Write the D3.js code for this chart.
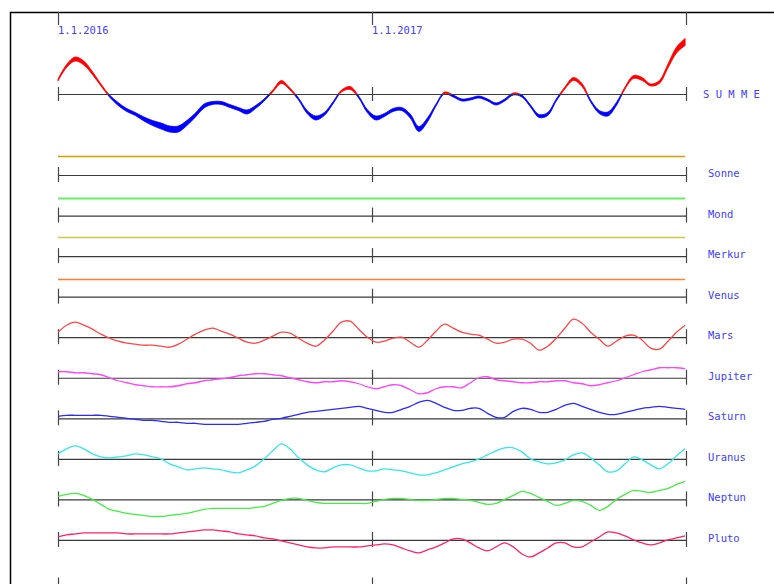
<!DOCTYPE html>
<html>
<head>
<meta charset="utf-8">
<style>
    body { margin: 0; background: #fff; }
    text { font-family: "DejaVu Sans Mono", monospace; font-size: 10.5px; fill: #4040ff; }
</style>
</head>
<body>
<div id="chart"></div>
<script src="https://cdn.jsdelivr.net/npm/d3@7"></script>
<script>
'use strict';

// one sample every 10 days, starting 1.1.2016
var stepDays = 10;
var yearLabels = ["1.1.2016", "1.1.2017", ""];
var yearTicks = [new Date(2016, 0, 1), new Date(2017, 0, 1), new Date(2018, 0, 1)];

var summe = [14, 28, 35, 31, 21, 9, -2, -10, -16, -20, -25, -29, -32, -35, -35, -29, -21, -12, -9, -9,
    -12, -15, -18, -13, -6, 3, 12, 5, -5, -18, -24, -20, -9, 3, 6, -3, -17, -24, -21, -16,
    -15, -22, -35, -26, -11, 1, -2, -6, -5, -3, -6, -10, -6, 0, -2, -12, -22, -20, -6, 6,
    15, 9, -7, -18, -20, -10, 6, 17, 15, 9, 12, 28, 44, 52];
var summeWidth = [2, 3, 4, 4, 3, 2, 2, 3, 3, 3, 4, 5, 6, 6, 6, 5, 4, 4, 3, 3,
    3, 3, 4, 3, 2, 2, 3, 2, 2, 3, 4, 3, 2, 2, 3, 2, 3, 4, 3, 3,
    3, 4, 5, 4, 2, 2, 2, 2, 2, 2, 2, 2, 2, 2, 2, 2, 3, 3, 2, 2,
    3, 3, 2, 3, 4, 3, 2, 3, 3, 2, 3, 4, 6, 7];

var bodies = ["Sonne", "Mond", "Merkur", "Venus", "Mars", "Jupiter", "Saturn", "Uranus", "Neptun", "Pluto"];
var colors = ["#d4a000", "#66ee66", "#cccc44", "#ff7f30", "#ff4545", "#ff44ff", "#2a2aff", "#33e8e8", "#44ee44", "#ff2266"];

// Sonne .. Venus stay constant over the whole period
var flatValues = [19, 18, 19, 18];

var mars = [5, 12, 15, 12, 8, 3, -1, -4, -6, -7, -8, -8, -9, -10, -7, -2, 3, 7, 9, 6,
    3, -1, -5, -6, -3, 1, 5, 4, -1, -6, -9, -3, 6, 15, 16, 8, 0, -5, -4, -1,
    0, -5, -10, -3, 6, 13, 9, 5, 3, 2, -2, -6, -5, -2, -2, -6, -13, -9, -1, 9,
    18, 14, 5, -2, -9, -4, 1, 2, -3, -11, -12, -4, 5, 12];
var jupiter = [6, 6, 5, 5, 4, 3, 0, -3, -5, -7, -8, -9, -9, -9, -8, -6, -5, -3, -2, -1,
    0, 2, 3, 4, 4, 3, 2, 0, -2, -4, -5, -4, -4, -3, -4, -6, -9, -11, -9, -7,
    -8, -12, -16, -15, -11, -9, -9, -10, -5, 0, 1, -2, -3, -4, -5, -5, -4, -4, -3, -3,
    -5, -6, -8, -7, -5, -3, 0, 3, 6, 8, 10, 10, 10, 9];
var saturn = [2, 3, 3, 3, 3, 3, 2, 1, 0, -1, -2, -2, -3, -4, -4, -5, -5, -6, -6, -6,
    -6, -6, -5, -4, -3, -1, 0, 2, 4, 6, 7, 8, 9, 10, 11, 12, 10, 8, 6, 6,
    9, 12, 16, 18, 15, 11, 8, 8, 10, 10, 5, 1, 1, 7, 10, 9, 6, 6, 9, 13,
    15, 12, 9, 6, 4, 4, 6, 8, 10, 11, 12, 11, 10, 9];
var uranus = [5, 10, 13, 10, 5, 2, 1, 2, 3, 5, 4, 2, 0, -5, -8, -11, -10, -9, -10, -11,
    -13, -14, -11, -7, 0, 8, 15, 10, 1, -6, -11, -13, -9, -6, -6, -9, -12, -12, -10, -11,
    -12, -14, -16, -16, -14, -11, -8, -5, -3, 0, 4, 8, 11, 11, 7, 0, -3, -5, -4, -1,
    4, 6, 1, -6, -13, -12, -5, 2, -1, -6, -10, -5, 3, 10];
var neptun = [3, 5, 6, 4, 0, -5, -10, -12, -14, -15, -16, -17, -17, -16, -15, -14, -12, -10, -9, -9,
    -9, -9, -9, -8, -7, -4, -1, 1, 1, -1, -3, -4, -4, -4, -4, -4, -4, -2, 0, 1,
    1, 0, -1, -1, 0, 1, 1, 0, -1, -3, -5, -4, 0, 4, 8, 6, 2, -2, -6, -4,
    -1, -2, -6, -11, -7, 0, 5, 9, 8, 7, 9, 11, 15, 18];
var pluto = [3, 5, 6, 7, 7, 7, 7, 7, 6, 6, 6, 6, 6, 6, 7, 8, 9, 10, 10, 9,
    8, 6, 5, 4, 2, 1, -1, -3, -5, -7, -8, -8, -7, -7, -7, -7, -6, -5, -4, -5,
    -8, -11, -13, -10, -7, -3, 1, 1, -3, -8, -11, -7, -3, -7, -14, -17, -13, -8, -3, -3,
    -7, -7, -2, 3, 8, 7, 4, 0, -3, -5, -3, 0, 2, 4];

var curveSeries = [mars, jupiter, saturn, uranus, neptun, pluto];

var width = 774,
    height = 584,
    summeBase = 94,
    firstRow = 175,
    rowStep = 40.55;

var start = yearTicks[0];
var dates = summe.map(function(d, i) { return d3.timeDay.offset(start, i * stepDays); });

var x = d3.scaleTime().domain([yearTicks[0], yearTicks[2]]).range([58, 686]);

var svg = d3.select("#chart").append("svg")
    .attr("width", width)
    .attr("height", height);

//Frame
svg.append("path")
    .attr("d", "M" + width + ",12.5H10.5V" + height)
    .attr("fill", "none")
    .attr("stroke", "#000")
    .attr("stroke-width", 1.5);

//Year ticks at the top
svg.append("g").selectAll("line")
    .data(yearTicks)
    .enter().append("line")
    .attr("x1", function(d) { return Math.round(x(d)) + 0.5; })
    .attr("x2", function(d) { return Math.round(x(d)) + 0.5; })
    .attr("y1", 12)
    .attr("y2", 25)
    .attr("stroke", "#444")
    .attr("stroke-width", 1.2);

svg.append("g").selectAll("text")
    .data(yearTicks)
    .enter().append("text")
    .attr("x", function(d) { return Math.round(x(d)); })
    .attr("y", 34)
    .text(function(d, i) { return yearLabels[i]; });

function drawAxis(base, tickDown, tickUp, withLine) {
    var g = svg.append("g");
    if (withLine) {
        g.append("line")
            .attr("x1", x.range()[0])
            .attr("x2", x.range()[1])
            .attr("y1", base + 0.5)
            .attr("y2", base + 0.5)
            .attr("stroke", "#3a3a3a")
            .attr("stroke-width", 1.2);
    }
    g.selectAll(".tick")
        .data(yearTicks)
        .enter().append("line")
        .attr("class", "tick")
        .attr("x1", function(d) { return Math.round(x(d)) + 0.5; })
        .attr("x2", function(d) { return Math.round(x(d)) + 0.5; })
        .attr("y1", base - tickUp)
        .attr("y2", base + tickDown)
        .attr("stroke", "#444")
        .attr("stroke-width", 1.2);
}

//SUMME: band, red above the axis, blue below
var ySum = d3.scaleLinear().domain([-60, 60]).range([summeBase + 60, summeBase - 60]);

var defs = svg.append("defs");
defs.append("clipPath").attr("id", "above")
    .append("rect").attr("x", 0).attr("y", 0).attr("width", width).attr("height", summeBase);
defs.append("clipPath").attr("id", "below")
    .append("rect").attr("x", 0).attr("y", summeBase).attr("width", width).attr("height", 200);

var band = d3.area()
    .x(function(d, i) { return x(dates[i]); })
    .y0(function(d, i) { return ySum(d) + summeWidth[i] / 2; })
    .y1(function(d, i) { return ySum(d) - summeWidth[i] / 2; })
    .curve(d3.curveCatmullRom);

svg.append("path").datum(summe)
    .attr("clip-path", "url(#above)")
    .attr("d", band)
    .attr("fill", "#ff0000")
    .attr("stroke", "#ff0000")
    .attr("stroke-width", 0.8);
svg.append("path").datum(summe)
    .attr("clip-path", "url(#below)")
    .attr("d", band)
    .attr("fill", "#0000ff")
    .attr("stroke", "#0000ff")
    .attr("stroke-width", 0.8);

drawAxis(summeBase, 7, 7, true);

svg.append("text")
    .attr("x", 703)
    .attr("y", summeBase + 4)
    .style("white-space", "pre")
    .text("S U M M E");

//Planet rows
bodies.forEach(function(name, i) {
    var base = firstRow + i * rowStep;
    var y = d3.scaleLinear().domain([-20, 20]).range([base + 20, base - 20]);
    var values = i < flatValues.length
        ? dates.map(function() { return flatValues[i]; })
        : curveSeries[i - flatValues.length];

    drawAxis(base, 7, 8, true);

    var line = d3.line()
        .x(function(d, j) { return x(dates[j]); })
        .y(function(d) { return i < flatValues.length ? Math.round(y(d)) + 0.5 : y(d); })
        .curve(d3.curveCatmullRom);

    svg.append("path").datum(values)
        .attr("d", line)
        .attr("fill", "none")
        .attr("stroke", colors[i])
        .attr("stroke-width", i === 1 ? 1.8 : 1.3);

    svg.append("text")
        .attr("x", 708)
        .attr("y", base + 2)
        .text(name);
});

//Empty axis at the bottom
drawAxis(firstRow + bodies.length * rowStep, 10, 3, false);
</script>
</body>
</html>
